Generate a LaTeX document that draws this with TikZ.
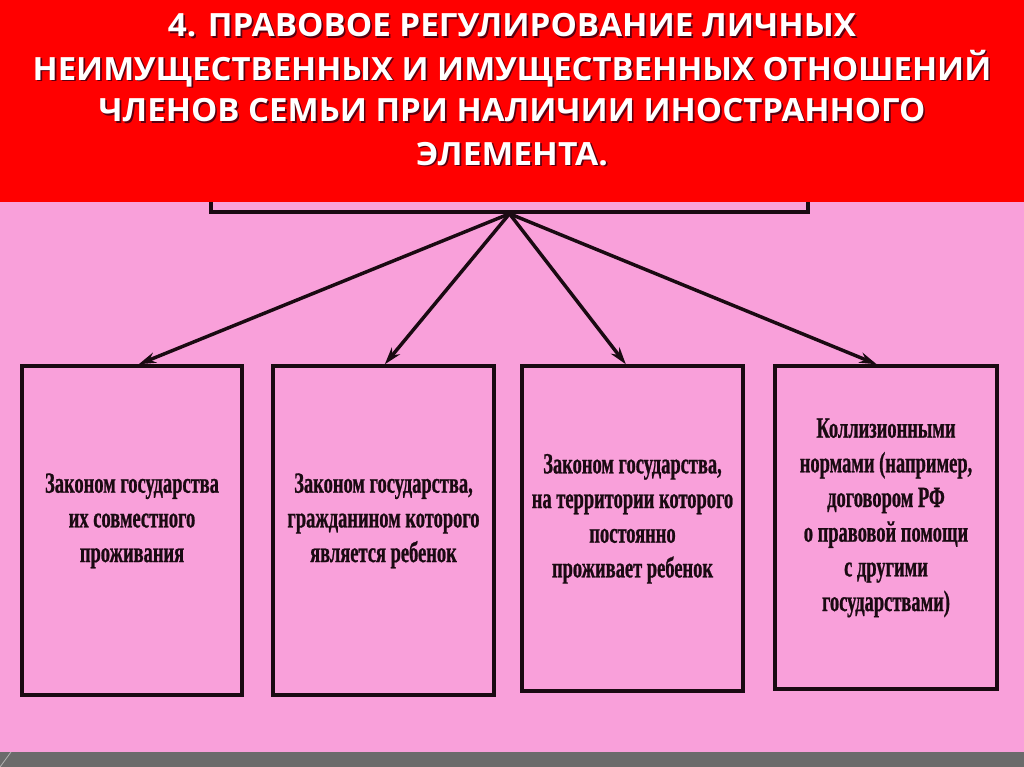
\documentclass[tikz,border=0pt]{standalone}
\usepackage{fontspec}
\usepackage{graphicx}
\usetikzlibrary{arrows.meta,fit}
\newfontfamily\headfont{Open Sans}
\newfontfamily\boxfont{Liberation Serif}[FakeStretch=0.63,FakeBold=0.8]
\definecolor{pinkbg}{HTML}{F9A0DA}
\definecolor{redband}{HTML}{FF0000}
\definecolor{grayband}{HTML}{6B6B6B}
\definecolor{shadowc}{HTML}{5A0010}
\definecolor{ink}{HTML}{1A0A12}
\newcommand\shtext[1]{\makebox[0pt][l]{\hspace{1.2pt}\raisebox{-1.2pt}{\color{shadowc}#1}}#1}
\begin{document}
\begin{tikzpicture}[x=0.75pt,y=-0.75pt,
  box/.style={draw=ink, line width=2.6pt, fill=pinkbg, inner sep=0pt, align=center,
    font=\boxfont\bfseries\fontsize{22}{26}\selectfont, text=ink},
  head/.style={anchor=base, inner sep=0pt, text=white,
    font=\headfont\bfseries\fontsize{24}{28}\selectfont},
  arr/.style={draw=ink, line width=2.6pt, -{Stealth[length=13pt,width=8pt]}}]
\useasboundingbox (0,0) rectangle (1024,767);
\fill[pinkbg] (0,0) rectangle (1024,767);
% top box, mostly hidden under the red band
\node[draw=ink, line width=2.6pt, fill=pinkbg, inner sep=0pt, fit={(211,120) (808,212)}] (top) {};
\fill[redband] (0,0) rectangle (1024,202);
\fill[grayband] (0,752) rectangle (1024,767);
\draw[gray!60, line width=0.6pt] (0,767) -- (11,752);
% title
\node[head] (h1) at (512,37) {\resizebox{516pt}{\height}{\shtext{4. ПРАВОВОЕ РЕГУЛИРОВАНИЕ ЛИЧНЫХ}}};
\node[head] (h2) at (512,80) {\resizebox{719pt}{\height}{\shtext{НЕИМУЩЕСТВЕННЫХ И ИМУЩЕСТВЕННЫХ ОТНОШЕНИЙ}}};
\node[head] (h3) at (512,122) {\resizebox{620pt}{\height}{\shtext{ЧЛЕНОВ СЕМЬИ ПРИ НАЛИЧИИ ИНОСТРАННОГО}}};
\node[head] (h4) at (512,165) {\resizebox{144pt}{\height}{\shtext{ЭЛЕМЕНТА.}}};
% boxes
\node[box, fit={(22,366) (242,695)}] (b1) {Законом государства\\их совместного\\проживания};
\node[box, fit={(273,366) (494,695)}] (b2) {Законом государства,\\гражданином которого\\является ребенок};
\node[box, fit={(522,366) (743,691)}] (b3) {Законом государства,\\на территории которого\\постоянно\\проживает ребенок};
\node[box, fit={(775,366) (997,689)}] (b4) {Коллизионными\\нормами (например,\\договором РФ\\о правовой помощи\\с другими\\государствами)};
% arrows
\draw[arr] (top.south) -- ([xshift=5pt]b1.north);
\draw[arr] (top.south) -- ([xshift=1pt]b2.north);
\draw[arr] (top.south) -- ([xshift=-5pt]b3.north);
\draw[arr] (top.south) -- ([xshift=-7pt]b4.north);
\end{tikzpicture}
\end{document}
